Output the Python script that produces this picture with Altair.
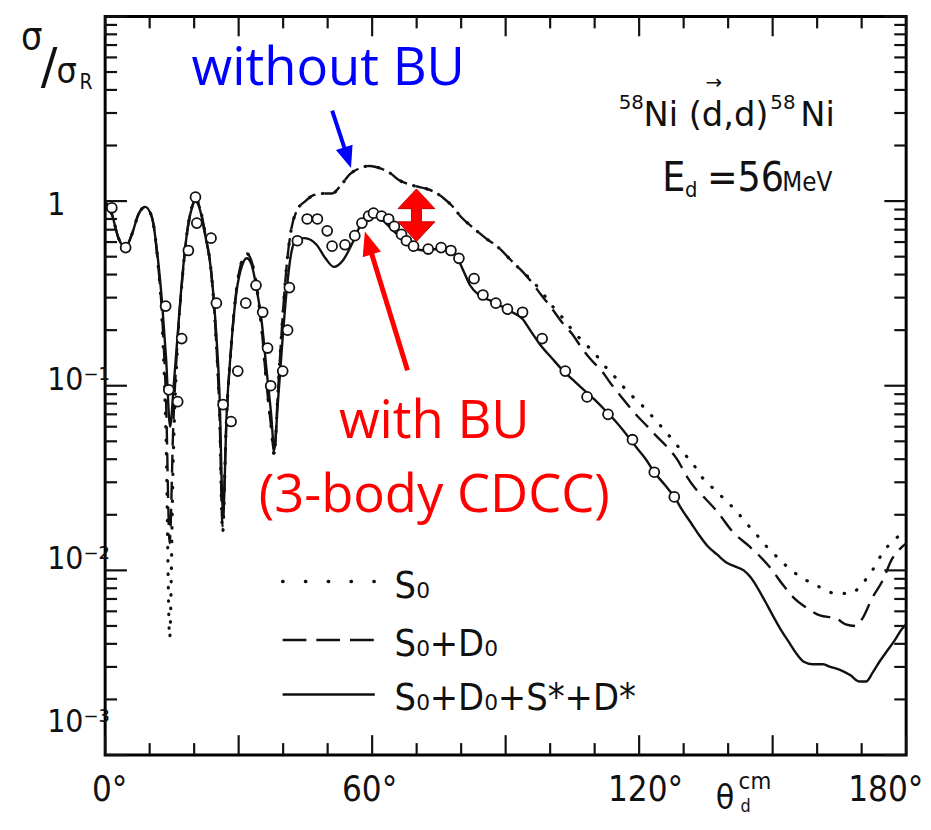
import altair as alt
import pandas as pd

# ---------------- data ----------------
# full CDCC calculation  S0+D0+S*+D*  (solid)
theta_full = [0, 1.5, 3, 4.5, 6, 7.5, 9, 10.5, 11.8, 12.8, 13.7, 14.6, 15.4, 16.3, 17.3, 18.5,
              19.5, 20.3, 21.3, 22.5, 23.8, 24.8, 25.7, 26.5, 27.3, 28.3, 29.5, 30.8, 31.8, 32.8,
              34, 35.2, 36.3, 37.3, 38, 38.8, 39.8, 40.8, 41.8, 43, 44.8, 47.5, 49.5, 51.4, 53.5,
              55.8, 57.8, 59.5, 61, 62.6, 64.5, 66.2, 68, 70, 72.2, 74.5, 76.5, 78.8, 80.5, 82,
              84, 86.5, 89, 91.5, 93.8, 95.5, 97.5, 100.5, 103, 105.6, 108, 110, 112.5, 114.5,
              117, 119.5, 121.5, 123.4, 125.8, 127.9, 129.8, 131.7, 133.5, 135.3, 137.5, 139.7,
              141.5, 143.5, 145, 146.4, 148.3, 150.2, 152, 153.9, 155.5, 157, 159, 161.3, 163,
              165, 167.5, 169.5, 171, 172.5, 174, 175.5, 177.5, 179, 180]
sigma_full = [1.0, 0.85, 0.63, 0.56, 0.66, 0.85, 0.93, 0.82, 0.5, 0.28, 0.14, 0.06, 0.1, 0.19,
              0.38, 0.7, 0.92, 1.0, 0.9, 0.65, 0.42, 0.22, 0.09, 0.02, 0.07, 0.16, 0.32, 0.45,
              0.49, 0.46, 0.34, 0.22, 0.12, 0.07, 0.045, 0.08, 0.17, 0.33, 0.52, 0.62, 0.63, 0.58,
              0.49, 0.44, 0.48, 0.61, 0.78, 0.86, 0.84, 0.78, 0.7, 0.64, 0.58, 0.55, 0.54, 0.55,
              0.55, 0.51, 0.42, 0.35, 0.31, 0.29, 0.27, 0.25, 0.23, 0.2, 0.17, 0.14, 0.12, 0.105,
              0.093, 0.084, 0.073, 0.065, 0.055, 0.046, 0.04, 0.034, 0.029, 0.025, 0.021, 0.018,
              0.0155, 0.0136, 0.0122, 0.011, 0.0105, 0.01, 0.0092, 0.0082, 0.0068, 0.0056, 0.0047,
              0.004, 0.0035, 0.0032, 0.0031, 0.0031, 0.003, 0.0029, 0.0027, 0.0025, 0.0025,
              0.0028, 0.0032, 0.0036, 0.0042, 0.0048, 0.0051]

# S0+D0 (dashed)
theta_s0d0 = [0, 1.5, 3, 4.5, 6, 7.5, 9, 10.5, 11.8, 12.8, 13.7, 14.5, 15.3, 16.3, 17.3, 18.5,
              19.5, 20.3, 21.3, 22.5, 23.8, 24.8, 25.7, 26.4, 27.2, 28.3, 29.5, 30.8, 31.8, 32.8,
              34, 35.2, 36.3, 37.3, 38, 38.8, 39.8, 40.8, 41.8, 43, 45, 47, 49, 51, 53, 55, 57,
              59.5, 62, 64, 66, 68, 70, 72, 74, 76, 78, 80, 82.6, 85.5, 88.4, 91.5, 94, 96, 98,
              100.5, 102.7, 105, 107.1, 109, 111.6, 114, 116, 119, 121.9, 124, 126.5, 128.5,
              130.8, 132.5, 134.5, 137.4, 141.2, 144.6, 147, 149.5, 152.4, 155, 157.5, 160.6,
              164.2, 166.4, 168.6, 170.2, 172.4, 174.6, 176.9, 178.5, 180]
sigma_s0d0 = [1.0, 0.85, 0.63, 0.56, 0.66, 0.85, 0.93, 0.82, 0.48, 0.24, 0.08, 0.014, 0.06, 0.18,
              0.37, 0.7, 0.93, 1.02, 0.92, 0.66, 0.42, 0.2, 0.07, 0.017, 0.06, 0.16, 0.33, 0.48,
              0.52, 0.48, 0.35, 0.2, 0.1, 0.06, 0.043, 0.09, 0.22, 0.45, 0.7, 0.88, 1.0, 1.08, 1.1,
              1.1, 1.22, 1.4, 1.5, 1.55, 1.5, 1.42, 1.3, 1.24, 1.2, 1.17, 1.12, 1.04, 0.94, 0.82,
              0.72, 0.63, 0.56, 0.47, 0.41, 0.36, 0.31, 0.26, 0.22, 0.19, 0.16, 0.14, 0.12, 0.1,
              0.087, 0.071, 0.06, 0.053, 0.046, 0.04, 0.032, 0.028, 0.025, 0.021, 0.016, 0.0136,
              0.012, 0.0103, 0.0083, 0.007, 0.0063, 0.0057, 0.0055, 0.0051, 0.005, 0.0055, 0.0071,
              0.0087, 0.0116, 0.013, 0.014]

# S0 only (dotted)
theta_s0 = [0, 1.5, 3, 4.5, 6, 7.5, 9, 10.5, 11.8, 12.8, 13.7, 14.5, 15.3, 16.3, 17.3, 18.5,
            19.5, 20.3, 21.3, 22.5, 23.8, 24.8, 25.7, 26.4, 27.2, 28.3, 29.5, 30.8, 31.8, 32.8,
            34, 35.2, 36.3, 37.3, 38, 38.8, 39.8, 40.8, 41.8, 43, 45, 47, 49, 51, 53, 55, 57,
            59.5, 62, 64, 66, 68, 70, 72, 74, 76, 78, 80, 82.6, 85.5, 88.4, 91.5, 94, 96, 98.2,
            100.5, 102.7, 105, 107.5, 110, 112, 113.8, 115.5, 117.4, 120.5, 123, 125, 127.5,
            129.7, 132, 134.1, 136.5, 139.4, 141.8, 144.1, 146.5, 148.6, 151.5, 154.2, 157,
            160.2, 162, 164, 167.5, 170.2, 172.4, 174.6, 177.5, 180]
sigma_s0 = [1.0, 0.85, 0.63, 0.56, 0.66, 0.85, 0.93, 0.82, 0.48, 0.22, 0.05, 0.0043, 0.04, 0.17,
            0.37, 0.7, 0.93, 1.02, 0.92, 0.66, 0.42, 0.2, 0.07, 0.016, 0.06, 0.16, 0.33, 0.48,
            0.52, 0.48, 0.35, 0.2, 0.1, 0.06, 0.042, 0.09, 0.22, 0.45, 0.7, 0.88, 1.0, 1.08, 1.1,
            1.1, 1.22, 1.4, 1.5, 1.55, 1.5, 1.42, 1.3, 1.24, 1.2, 1.17, 1.12, 1.04, 0.94, 0.82,
            0.72, 0.63, 0.56, 0.47, 0.41, 0.37, 0.32, 0.27, 0.235, 0.2, 0.172, 0.15, 0.13, 0.117,
            0.105, 0.093, 0.079, 0.068, 0.06, 0.051, 0.044, 0.038, 0.032, 0.028, 0.024, 0.021,
            0.018, 0.0155, 0.0135, 0.0115, 0.01, 0.009, 0.0082, 0.0078, 0.0075, 0.0075, 0.0085,
            0.01, 0.0123, 0.0148, 0.016]

# measured points (open circles)
theta_exp = [1.5, 4.6, 13.6, 14.3, 16.3, 17.2, 18.7, 20.3, 20.6, 23.8, 25.0, 26.5, 28.3, 29.8,
             31.6, 33.9, 35.4, 36.5, 37.2, 39.9, 41.0, 41.4, 43.2, 45.4, 47.7, 49.9, 51.0, 53.9,
             56.1, 57.7, 59.2, 60.3, 62.1, 63.7, 65.0, 66.6, 67.7, 69.3, 72.6, 75.5, 77.7, 79.5,
             82.9, 84.9, 87.8, 90.4, 93.8, 98.2, 103.4, 108.3, 113.0, 118.5, 123.4, 127.9]
sigma_exp = [0.92, 0.56, 0.27, 0.095, 0.082, 0.18, 0.54, 1.05, 0.76, 0.63, 0.28, 0.079, 0.064,
             0.12, 0.28, 0.35, 0.25, 0.16, 0.10, 0.12, 0.20, 0.34, 0.61, 0.80, 0.80, 0.69, 0.57,
             0.58, 0.65, 0.76, 0.83, 0.86, 0.83, 0.80, 0.73, 0.66, 0.61, 0.57, 0.55, 0.56, 0.54,
             0.49, 0.38, 0.31, 0.28, 0.26, 0.25, 0.18, 0.12, 0.087, 0.070, 0.051, 0.034, 0.025]

x_major_ticks = [0, 30, 60, 90, 120, 150, 180]
x_minor_ticks = [10, 20, 40, 50, 70, 80, 100, 110, 130, 140, 160, 170]
y_major_ticks = [0.001, 0.01, 0.1, 1, 10]
y_minor_ticks = [0.002, 0.003, 0.004, 0.005, 0.006, 0.007, 0.008, 0.009,
                 0.02, 0.03, 0.04, 0.05, 0.06, 0.07, 0.08, 0.09,
                 0.2, 0.3, 0.4, 0.5, 0.6, 0.7, 0.8, 0.9,
                 2, 3, 4, 5, 6, 7, 8, 9]
x_label_values = [0, 60, 120, 180]
y_label_values = [0.001, 0.01, 0.1, 1]
legend_labels = ["S₀", "S₀+D₀", "S₀+D₀+S*+D*"]

# ---------------- layout / style ----------------
W, H = 808, 745
OX, OY = 106, 13          # page position of the plot origin
NARROW = "'Liberation Sans Narrow', 'DejaVu Sans Condensed', 'Liberation Sans', sans-serif"
WIDE = "'DejaVu Sans', sans-serif"
CAL = "'Open Sans', 'Noto Sans', sans-serif"
INK = "#111111"
BLUE = "#0000ff"
RED = "#ff0000"


def px(x):
    return x - OX


def py(y):
    return y - OY


dummy = pd.DataFrame({"d": [0]})

xs = alt.Scale(domain=[0, 180], nice=False, zero=False)
ys = alt.Scale(type="log", domain=[0.001, 10], nice=False)

x_axis = alt.Axis(values=x_label_values, labelExpr="datum.value + '°'", ticks=False,
                  domain=False, grid=False, title=None, labelFont=NARROW, labelFontSize=35,
                  labelColor=INK, labelPadding=18, labelBaseline="top", labelFlush=False,
                  labelOffset={"condition": [{"test": "datum.value === 180", "value": -21},
                                             {"test": "datum.value === 120", "value": 6},
                                             {"test": "datum.value === 0", "value": 4}],
                               "value": -3})
y_axis = alt.Axis(values=y_label_values,
                  labelExpr="datum.value > 0.5 ? '1' : datum.value > 0.05 ? '10⁻¹' : "
                            "datum.value > 0.005 ? '10⁻²' : '10⁻³'",
                  ticks=False, domain=False, grid=False, title=None, labelFont=NARROW,
                  labelFontSize=32, labelColor=INK, labelAlign="left", labelPadding=59,
                  labelBaseline="middle", labelFlush=False, labelOverlap=False,
                  labelOffset={"condition": [{"test": "datum.value > 0.5", "value": 4},
                                             {"test": "datum.value > 0.05", "value": -6},
                                             {"test": "datum.value > 0.005", "value": -12}],
                               "value": -34})

X = alt.X("theta:Q", scale=xs, axis=x_axis)
Y = alt.Y("sigma:Q", scale=ys, axis=y_axis)


def curve(t, v, **style):
    df = pd.DataFrame({"theta": t, "sigma": v})
    return alt.Chart(df).mark_line(color=INK, interpolate="monotone", clip=True, **style).encode(
        x=X, y=Y)


dotted = curve(theta_s0, sigma_s0, strokeWidth=3.2, strokeDash=[0.5, 13], strokeCap="round")
dashed = curve(theta_s0d0, sigma_s0d0, strokeWidth=2.4, strokeDash=[18, 9])
solid = curve(theta_full, sigma_full, strokeWidth=2.4)

points = alt.Chart(pd.DataFrame({"theta": theta_exp, "sigma": sigma_exp})).mark_point(
    shape="circle", filled=True, fill="white", stroke=INK, strokeWidth=1.8, size=100,
    opacity=1, clip=True).encode(x=X, y=Y)


def ticks_y(values, length, side):
    x0, x1 = (0, length) if side == "left" else (W, W - length)
    return alt.Chart(pd.DataFrame({"sigma": values})).mark_rule(color=INK, strokeWidth=2.2).encode(
        y=Y, x=alt.value(x0), x2=alt.value(x1))


def ticks_x(values, length, side):
    y0, y1 = (0, length) if side == "top" else (H, H - length)
    return alt.Chart(pd.DataFrame({"theta": values})).mark_rule(color=INK, strokeWidth=2.2).encode(
        x=X, y=alt.value(y0), y2=alt.value(y1))


tick_layers = [
    ticks_y(y_major_ticks, 22, "left"), ticks_y(y_minor_ticks, 12, "left"),
    ticks_y(y_major_ticks, 22, "right"), ticks_y(y_minor_ticks, 12, "right"),
    ticks_x(x_major_ticks, 20, "top"), ticks_x(x_minor_ticks, 12, "top"),
    ticks_x(x_major_ticks, 20, "bottom"), ticks_x(x_minor_ticks, 12, "bottom"),
]


def text(s, x, y, size, color=INK, font=NARROW, align="left", baseline="alphabetic", **kw):
    return alt.Chart(dummy).mark_text(text=s, fontSize=size, color=color, font=font, align=align,
                                      baseline=baseline, **kw).encode(
        x=alt.value(px(x)), y=alt.value(py(y)))


def seg(x1, y1, x2, y2, color, width, **kw):
    return alt.Chart(dummy).mark_rule(color=color, strokeWidth=width, **kw).encode(
        x=alt.value(px(x1)), y=alt.value(py(y1)), x2=alt.value(px(x2)), y2=alt.value(py(y2)))


def head(x, y, color, size, angle, shape="M0,-1L0.8,1L-0.8,1Z", **kw):
    return alt.Chart(dummy).mark_point(shape=shape, filled=True, fill=color, color=color,
                                       size=size, angle=angle, opacity=1, **kw).encode(
        x=alt.value(px(x)), y=alt.value(py(y)))


# legend
legend = [
    seg(285, 583, 379, 583, INK, 3.4, strokeDash=[0.5, 22.5], strokeCap="round"),
    seg(285, 642, 378, 642, INK, 2.6, strokeDash=[24, 10]),
    seg(285, 697, 378, 697, INK, 2.6),
    text(legend_labels[0], 398, 600, 38),
    text(legend_labels[1], 398, 658, 38),
    text(legend_labels[2], 398, 713, 38),
]

# axis titles & reaction label
labels = [
    text("σ", 21, 46, 38),
    text("/", 41, 80, 50, font=WIDE),
    text("σ", 57, 80, 36),
    text("R", 80, 86, 21),
    text("θ", 722, 812, 34),
    text("cm", 745, 792, 24),
    text("d", 747, 815, 18),
    text("58", 624, 106, 20, font=WIDE),
    text("Ni (d,d)", 649, 123, 34, font=WIDE),
    text("→", 720, 86, 20, font=WIDE, align="center"),
    text("58", 777, 106, 20, font=WIDE),
    text("Ni", 842, 123, 34, font=WIDE, align="right"),
    text("E", 668, 189, 41),
    text("d", 691, 195, 22),
    text("=56", 713, 189, 41),
    text("MeV", 789, 189, 26),
]

DOUBLE = ("M0,-1L0.7,-0.25L0.19,-0.25L0.19,0.25L0.7,0.25L0,1L-0.7,0.25L-0.19,0.25"
          "L-0.19,-0.25L-0.7,-0.25Z")
annotations = [
    text("without BU", 331, 82, 53, color=BLUE, font=CAL, align="center"),
    text("with BU", 438, 438, 53, color=RED, font=CAL, align="center"),
    text("(3-body CDCC)", 438, 513, 53, color=RED, font=CAL, align="center"),
    seg(335, 108, 350.6, 155.5, BLUE, 4),
    head(350.6, 155.5, BLUE, 484, 162),
    seg(411, 370, 371.5, 241.5, RED, 5),
    head(371.5, 241.5, RED, 576, 343),
    head(420, 213.5, RED, 2809, 0, shape=DOUBLE, stroke="#c00000", strokeWidth=1),
]

chart = alt.layer(
    *tick_layers, dotted, dashed, solid, points, *legend, *labels, *annotations
).properties(
    width=W, height=H,
    background="white",
    autosize=alt.AutoSizeParams(type="none"),
    padding={"left": 98, "top": 5, "right": 17, "bottom": 58},
).configure_view(
    stroke="black", strokeWidth=3
)

chart.save("out.html", embed_options={"renderer": "svg", "actions": False})
